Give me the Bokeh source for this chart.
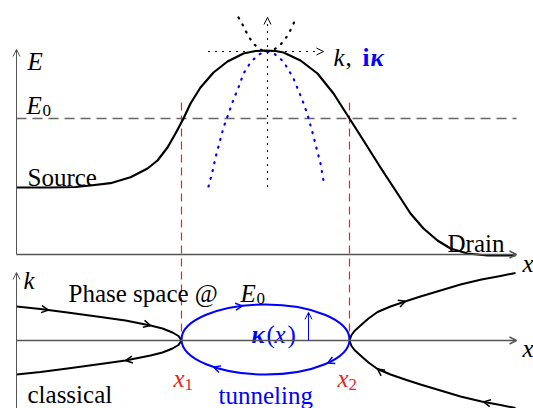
import numpy as np
from bokeh.plotting import figure
from bokeh.models import Range1d, Arrow, OpenHead
from bokeh.core.properties import value
from bokeh.embed import file_html
from bokeh.resources import INLINE

# ---------------- data (diagram units, screen-like y going down) ----------------
# top panel: potential energy profile E(x)
pot_x = [16, 50, 75, 90, 110, 130, 147, 157, 167, 175, 183, 190, 200, 213, 227, 243, 255, 265,
         275, 283, 300, 317, 333, 349, 363, 380, 397, 410, 423, 437, 450, 467, 487, 515]
pot_y = [187, 187, 186.5, 185, 182.7, 176.7, 168, 160, 147, 133, 118, 103, 87, 72, 61, 53, 50.5, 50,
         50.5, 52, 60, 73, 93, 118, 140, 167, 193, 213, 228, 240, 248, 253, 255, 255]

# dispersion near top of barrier: real k (black, upward) and imaginary i*kappa (blue, downward)
kdisp_lx = [238, 241, 244, 248, 253, 258, 262, 267]
kdisp_ly = [17, 22, 28, 36, 43, 48, 50, 51]
kdisp_rx = [267, 272, 278, 283, 287, 292, 295]
kdisp_ry = [51, 50, 46, 41, 35, 26, 18]
kap_lx = [208, 212, 215, 219, 223, 228, 233, 238, 243, 250, 257, 262, 267]
kap_ly = [186, 171, 157, 142, 127, 113, 99, 87, 73, 62, 55, 52, 51]
kap_rx = [267, 272, 276, 283, 293, 302, 307, 312, 320, 324]
kap_ry = [51, 52, 55, 61, 78, 100, 114, 132, 163, 186]

E0_level = 118
turning_x = [181, 349]

# bottom panel: phase space at E0, k(x) magnitude on each classical branch
axis_k0 = 340
left_x = [16, 40, 67, 100, 125, 150, 162, 172, 178, 181]
left_k = [34, 31.5, 28, 23.5, 20, 15, 12, 8, 4.5, 0]
right_x = [349, 351, 354, 360, 368, 377, 390, 406, 420, 440, 460, 481, 500, 515]
right_k = [0, 5.5, 9.5, 15, 22, 28.5, 34, 39.5, 44, 50, 56, 61, 64.5, 67.5]
kappa_max = 35
kappa_arrow_x = 308

# arrow marks along trajectories (x position, branch sign: -1 upper, +1 lower, direction)
left_marks = [(48, -1, 1), (150, -1, 1), (125, 1, -1)]
right_marks = [(405, -1, 1), (377, 1, -1), (483, 1, -1)]
ellipse_marks = [(242, -1, 1), (213, 1, -1), (327, 1, -1)]

AX = "#555555"
BLUE = "#0000ff"
RED = "#ee2222"
FONT = value("'Liberation Serif', 'Times New Roman', serif")

p = figure(width=533, height=408, x_range=Range1d(0, 533), y_range=Range1d(408, 0),
           output_backend="svg", toolbar_location=None, min_border=0)
p.axis.visible = False
p.grid.visible = False
p.outline_line_color = None
p.background_fill_color = "white"
p.border_fill_color = "white"


def arrow(x0, y0, x1, y1, color=AX, lw=1.0, size=7, body=True):
    p.add_layout(Arrow(end=OpenHead(size=size, line_color=color, line_width=lw),
                       x_start=x0, y_start=y0, x_end=x1, y_end=y1,
                       line_color=color, line_width=lw, line_alpha=1.0 if body else 0.0))


def head_on(xs, ys, x, direction, color, lw=1.5):
    xs = np.asarray(xs, float)
    ys = np.asarray(ys, float)
    y = np.interp(x, xs, ys)
    y2 = np.interp(x + direction * 0.5, xs, ys)
    arrow(x - direction * 0.5, 2 * y - y2, x, y, color=color, lw=lw, size=7, body=False)


# ---- axes ----
arrow(16, 254, 16, 49, AX, 1.0)
arrow(16, 254, 516, 254, AX, 1.4)
arrow(16, 408, 16, 272, AX, 1.0)
arrow(16, axis_k0, 516, axis_k0, AX, 1.4)

# E0 dashed level
p.line([16, 516], [E0_level, E0_level], line_color="#666666", line_width=1.5, line_dash="10 6")

# turning point red dashed lines
for tx in turning_x:
    p.line([tx, tx], [102, axis_k0], line_color=RED, line_width=1.2, line_dash="8 5")

# dotted dispersion axes
p.line([267, 267], [186, 22], line_color="black", line_width=1.2, line_dash="1 6", line_cap="round")
arrow(267, 22, 267, 17, "black", 1.0, 7, body=False)
p.line([208, 318], [51, 51], line_color="black", line_width=1.2, line_dash="1 6", line_cap="round")
arrow(318, 51, 323, 51, "black", 1.0, 7, body=False)

# dispersion branches
for xs, ys in [(kdisp_lx, kdisp_ly), (kdisp_rx, kdisp_ry)]:
    p.line(xs, ys, line_color="black", line_width=2.2, line_dash="1 7", line_cap="round")
for xs, ys in [(kap_lx, kap_ly), (kap_rx, kap_ry)]:
    p.line(xs, ys, line_color=BLUE, line_width=2.2, line_dash="1 7", line_cap="round")

# potential profile
p.line(pot_x, pot_y, line_color="black", line_width=2.2, line_join="round")

# phase space classical branches
lk = np.asarray(left_k, float)
rk = np.asarray(right_k, float)
p.line(left_x, axis_k0 - lk, line_color="black", line_width=2, line_join="round")
p.line(left_x, axis_k0 + lk, line_color="black", line_width=2, line_join="round")
p.line(right_x, axis_k0 - rk, line_color="black", line_width=2, line_join="round")
p.line(right_x, axis_k0 + rk, line_color="black", line_width=2, line_join="round")
for x, s, d in left_marks:
    head_on(left_x, axis_k0 + s * lk, x, d, "black")
for x, s, d in right_marks:
    head_on(right_x, axis_k0 + s * rk, x, d, "black")

# tunneling ellipse
cx = (turning_x[0] + turning_x[1]) / 2
half = (turning_x[1] - turning_x[0]) / 2
p.ellipse(x=[cx], y=[axis_k0 - 1], width=[2 * half], height=[2 * kappa_max],
          fill_alpha=0, line_color=BLUE, line_width=2)
ex = np.linspace(turning_x[0], turning_x[1], 200)
ek = kappa_max * np.sqrt(np.clip(1 - ((ex - cx) / half) ** 2, 0, 1))
for x, s, d in ellipse_marks:
    head_on(ex, axis_k0 - 1 + s * ek, x, d, BLUE)

# kappa(x) arrow
kap_here = kappa_max * np.sqrt(1 - ((kappa_arrow_x - cx) / half) ** 2)
arrow(kappa_arrow_x, axis_k0, kappa_arrow_x, axis_k0 - kap_here + 2, BLUE, 1.0, 7)


# ---- texts ----
def txt(x, y, s, color="black", size="25px", style="normal"):
    p.text(x=[x], y=[y], text=[s], text_color=color, text_font=FONT,
           text_font_size=value(size), text_font_style=style,
           text_baseline="alphabetic", text_align="left")


txt(27, 61, "E", style="italic")
txt(26, 105, "E", style="italic")
txt(42, 110, "0", size="17px")
txt(27, 177, "Source")
txt(447, 243, "Drain")
txt(522, 263, "x", style="italic")
txt(333, 57, "k", style="italic")
txt(345, 57, ",")
txt(362, 57, "i", color=BLUE, style="bold")
txt(370, 57, "κ", color=BLUE, style="bold italic")

txt(23, 280, "k", style="italic")
txt(68, 293, "Phase space @")
txt(240, 293, "E", style="italic")
txt(256, 298, "0", size="17px")
txt(27, 394, "classical")
txt(173, 378, "x", color=RED, style="italic")
txt(184, 384, "1", color=RED, size="17px")
txt(337, 378, "x", color=RED, style="italic")
txt(348, 384, "2", color=RED, size="17px")
txt(218, 395, "tunneling", color=BLUE)
txt(251, 334, "κ", color=BLUE, style="bold italic")
txt(266, 334, "(", color=BLUE)
txt(274, 334, "x", color=BLUE, style="italic")
txt(287, 334, ")", color=BLUE)
txt(522, 348, "x", style="italic")

open("out.html", "w").write(file_html(p, INLINE))
